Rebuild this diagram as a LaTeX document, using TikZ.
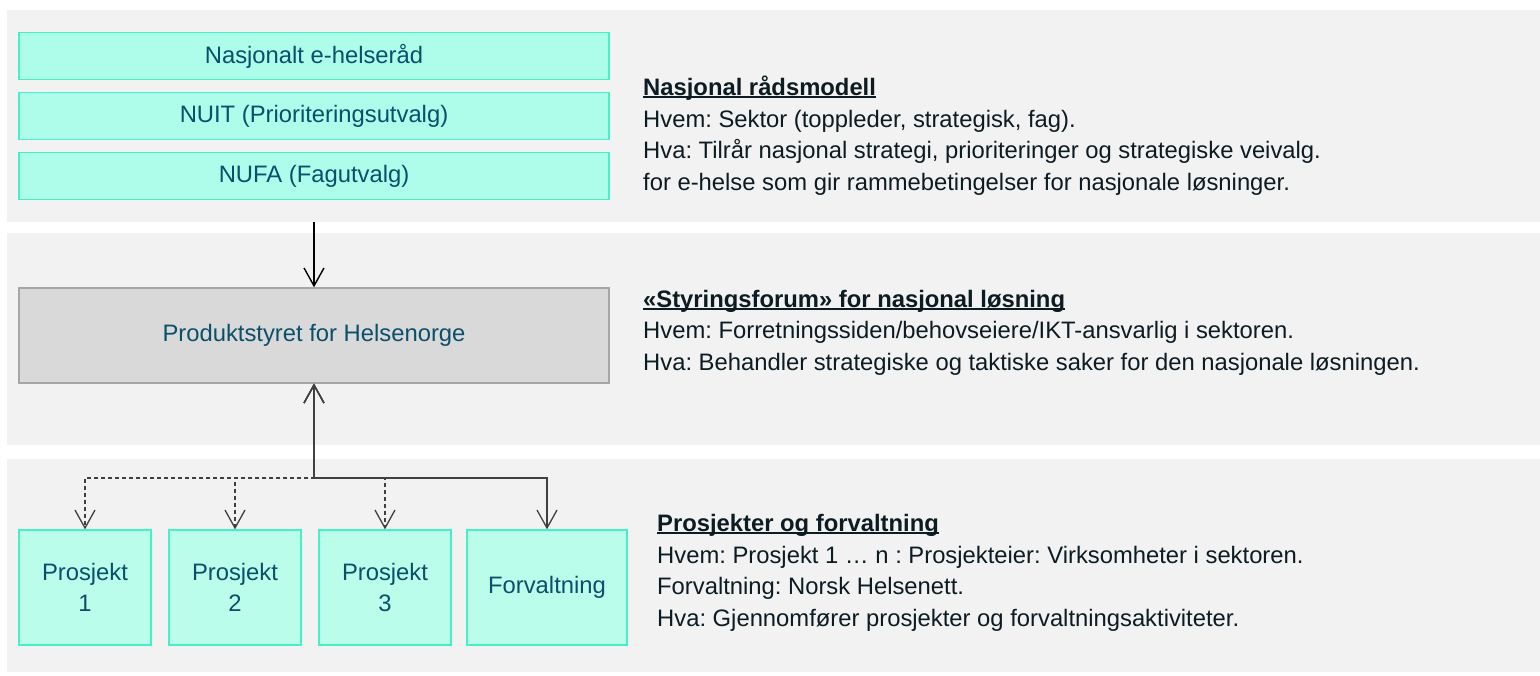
\documentclass[tikz,border=0pt]{standalone}
\usepackage{fontspec}
\setmainfont{Liberation Sans}
\usetikzlibrary{positioning,arrows.meta}
\frenchspacing

\definecolor{bandgrey}{HTML}{F2F2F2}
\definecolor{aqua}{HTML}{AEFCEA}
\definecolor{aqualight}{HTML}{BAFDEB}
\definecolor{aquaedge}{HTML}{45F2C8}
\definecolor{boxtext}{HTML}{0B4F6A}
\definecolor{prodfill}{HTML}{D9D9D9}
\definecolor{prodedge}{HTML}{A6A6A6}
\definecolor{notetext}{HTML}{0D1B22}
\definecolor{linkgrey}{HTML}{404040}

\newcommand{\headline}[1]{\setbox0\hbox{\bfseries #1}\rlap{\rule[-2.6pt]{\wd0}{1.8pt}}\box0}

\begin{document}
\begin{tikzpicture}[x=1pt,y=-1pt,node distance=60pt,on grid,
  txt/.style={font=\fontsize{23.8}{31.5}\selectfont},
  council/.style={txt,draw=aquaedge,fill=aqua,text=boxtext,line width=1.3pt,
    minimum width=590pt,minimum height=47pt,inner sep=0pt},
  board/.style={council,draw=prodedge,fill=prodfill,minimum height=95pt},
  project/.style={council,fill=aqualight,minimum width=132pt,minimum height=115pt,align=center},
  note/.style={txt,text=notetext,anchor=base west,align=left,inner sep=0pt},
  barb/.style={-{Straight Barb[length=18pt,width=20pt]},line width=1.4pt},
  link/.style={draw=linkgrey,line width=1.3pt,
    {Straight Barb[length=18pt,width=20pt]}-{Straight Barb[length=18pt,width=20pt]}},
  dashlink/.style={link,dash pattern=on 4pt off 3pt}]

  \useasboundingbox (0,0) rectangle (1540,675);
  \fill[bandgrey] (7,10) rectangle (1540,222);
  \fill[bandgrey] (7,233) rectangle (1540,445);
  \fill[bandgrey] (7,459) rectangle (1540,672);

  % nasjonal radsmodell
  \node[council] (raad) at (314,56) {Nasjonalt e-helseråd};
  \node[council] (nuit) [below=of raad] {NUIT (Prioriteringsutvalg)};
  \node[council] (nufa) [below=of nuit] {NUFA (Fagutvalg)};

  % styringsforum
  \node[board] (prod) at (314,335.5) {Produktstyret for Helsenorge};

  % prosjekter og forvaltning
  \node[project] (p1) at (85,587.5) {Prosjekt\\1};
  \node[project] (p2) [right=150pt of p1] {Prosjekt\\2};
  \node[project] (p3) [right=150pt of p2] {Prosjekt\\3};
  \node[project,minimum width=160pt] (forv) [right=162pt of p3] {Forvaltning};

  \coordinate (gap) at (314,222);
  \coordinate (fork) at (314,478);
  \path[barb] (gap) edge (prod);
  \foreach \p in {p1,p2,p3}
    \draw[dashlink] (prod.south) -- (fork) -| (\p.north);
  \draw[link] (prod.south) -- (fork) -| (forv.north);

  % base = last line
  \node[note] (raadnote) at (643,190) {\headline{Nasjonal rådsmodell}\\
    Hvem: Sektor (toppleder, strategisk, fag).\\
    Hva: Tilrår nasjonal strategi, prioriteringer og strategiske veivalg.\\
    for e-helse som gir rammebetingelser for nasjonale løsninger.};
  \node[note] (prodnote) at (643,370) {\headline{«Styringsforum» for nasjonal løsning}\\
    Hvem: Forretningssiden/behovseiere/IKT-ansvarlig i sektoren.\\
    Hva: Behandler strategiske og taktiske saker for den nasjonale løsningen.};
  \node[note] (prosnote) at (657,626) {\headline{Prosjekter og forvaltning}\\
    Hvem: Prosjekt 1 … n : Prosjekteier: Virksomheter i sektoren.\\
    Forvaltning: Norsk Helsenett.\\
    Hva: Gjennomfører prosjekter og forvaltningsaktiviteter.};
\end{tikzpicture}
\end{document}
